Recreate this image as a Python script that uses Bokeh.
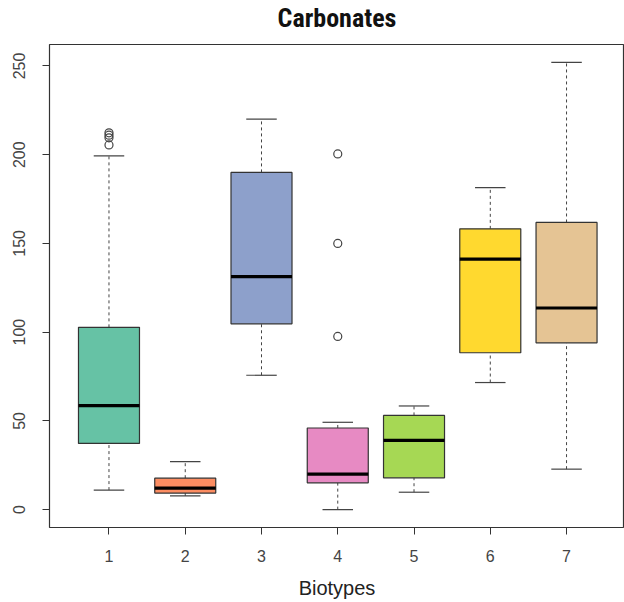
from bokeh.plotting import figure
from bokeh.models import FixedTicker, Range1d, ColumnDataSource, Title
from bokeh.transform import dodge
from bokeh.embed import file_html
from bokeh.resources import INLINE

# Data
groups = [1, 2, 3, 4, 5, 6, 7]
q1 = [37.3, 9.3, 104.7, 15.1, 17.9, 88.4, 94.0]
median = [58.6, 12.1, 131.3, 20.0, 39.0, 141.1, 113.6]
q3 = [102.7, 17.7, 190.0, 46.0, 53.1, 158.2, 161.8]
whisk_lo = [11.0, 7.7, 75.7, 0.0, 9.8, 71.6, 22.8]
whisk_hi = [199.3, 27.0, 220.0, 49.2, 58.4, 181.4, 252.0]
colors = ["#66C2A5", "#FC8D62", "#8DA0CB", "#E78AC3", "#A6D854", "#FFD92F", "#E5C494"]
out_x = [1, 1, 1, 1, 4, 4, 4]
out_y = [205.5, 209.5, 211.0, 212.3, 97.6, 150.0, 200.4]
y_ticks = [0, 50, 100, 150, 200, 250]
title_text = "Carbonates"
x_title = "Biotypes"

box_w = 0.8
cap_w = 0.4
edge = "#333333"

p = figure(width=624, height=602, output_backend="svg", toolbar_location=None,
           x_range=Range1d(0.22, 7.76), y_range=Range1d(-10.08, 262.08),
           min_border_left=49, min_border_right=0, min_border_top=44, min_border_bottom=75,
           title=title_text)

p.title.align = "center"
p.title.vertical_align = "middle"
p.title.text_font = "Liberation Sans Narrow, Roboto Condensed, Liberation Sans, sans-serif"
p.title.text_font_style = "bold"
p.title.text_font_size = "26px"
p.title.text_color = "#111111"
p.title.standoff = 0

# thin spacer panel between the title and the frame
spacer = Title(text=" ", text_font_size="8px", standoff=0)
p.add_layout(spacer, "above")

p.xgrid.visible = False
p.ygrid.visible = False
p.outline_line_color = edge
p.outline_line_width = 1.2
p.outline_line_alpha = 1.0

src = ColumnDataSource(dict(x=groups, q1=q1, med=median, q3=q3, lo=whisk_lo, hi=whisk_hi, c=colors))

# whiskers (dashed)
p.segment(x0="x", y0="q3", x1="x", y1="hi", source=src, line_color="#444444", line_dash="3 3", line_width=1)
p.segment(x0="x", y0="lo", x1="x", y1="q1", source=src, line_color="#444444", line_dash="3 3", line_width=1)
# caps
p.segment(x0=dodge("x", -cap_w / 2), y0="hi", x1=dodge("x", cap_w / 2), y1="hi", source=src,
          line_color="#444444", line_width=1.2)
p.segment(x0=dodge("x", -cap_w / 2), y0="lo", x1=dodge("x", cap_w / 2), y1="lo", source=src,
          line_color="#444444", line_width=1.2)
# boxes
p.vbar(x="x", width=box_w, bottom="q1", top="q3", source=src, fill_color="c", line_color=edge, line_width=1.2)
# medians
p.segment(x0=dodge("x", -box_w / 2), y0="med", x1=dodge("x", box_w / 2), y1="med", source=src,
          line_color="#000000", line_width=3.2)
# outliers
p.scatter(out_x, out_y, marker="circle", size=8, fill_color=None, line_color="#444444", line_width=1.2)

for ax in (p.xaxis[0], p.yaxis[0]):
    ax.axis_line_color = None
    ax.major_tick_line_color = edge
    ax.major_tick_out = 7
    ax.major_tick_in = 0
    ax.minor_tick_line_color = None
    ax.major_label_text_font = "Liberation Sans"
    ax.major_label_text_font_size = "16px"
    ax.major_label_text_color = "#444444"

p.xaxis.ticker = FixedTicker(ticks=groups)
p.yaxis.ticker = FixedTicker(ticks=y_ticks)
p.yaxis.major_label_orientation = "vertical"
p.yaxis.major_label_standoff = 17
p.xaxis.major_label_standoff = 15

p.xaxis.axis_label = x_title
p.xaxis.axis_label_text_font = "Liberation Sans"
p.xaxis.axis_label_text_font_style = "normal"
p.xaxis.axis_label_text_font_size = "20px"
p.xaxis.axis_label_text_color = "#222222"
p.xaxis.axis_label_standoff = 12

open("out.html", "w").write(file_html(p, INLINE))
